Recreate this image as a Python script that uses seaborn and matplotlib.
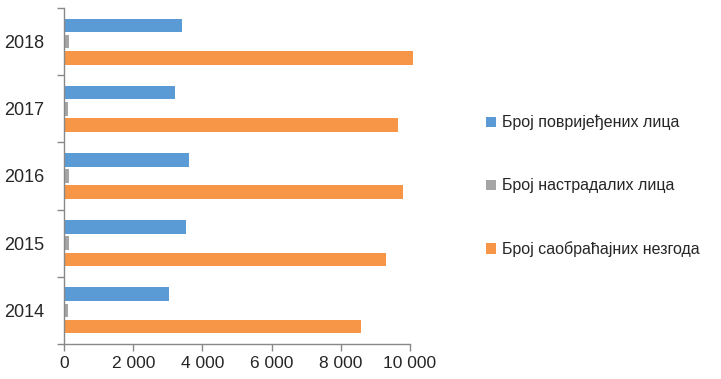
import matplotlib
matplotlib.use('Agg')
import matplotlib.pyplot as plt
from matplotlib.ticker import FuncFormatter, FixedLocator
from matplotlib.patches import Patch
import seaborn as sns
import pandas as pd

# Data
years = ['2018', '2017', '2016', '2015', '2014']
series = ['Број повријеђених лица', 'Број настрадалих лица', 'Број саобраћајних незгода']
injured = [3420, 3210, 3600, 3520, 3040]
killed = [135, 125, 155, 153, 125]
accidents = [10080, 9650, 9790, 9310, 8595]
colors = ['#5B9BD5', '#A5A5A5', '#F79646']

rows = []
for name, vals in zip(series, [injured, killed, accidents]):
    for yr, v in zip(years, vals):
        rows.append({'year': yr, 'series': name, 'value': v})
df = pd.DataFrame(rows)

sns.set_style('white')
plt.rcParams['font.family'] = ['Liberation Sans Narrow', 'Liberation Sans', 'DejaVu Sans']

fig = plt.figure(figsize=(7.21, 3.79), dpi=100)
ax = fig.add_axes([64/721, 1-344/379, 346/721, 336/379])

sns.barplot(data=df, y='year', x='value', hue='series', order=years,
            hue_order=series, palette=colors, orient='h', width=0.72,
            gap=0.16, ax=ax, legend=False, saturation=1, linewidth=0)
for p in ax.patches:
    p.set_clip_on(False)

ax.set_xlim(0, 10000)
ax.set_ylim(4.5, -0.5)
ax.set_xlabel('')
ax.set_ylabel('')
ax.xaxis.set_major_formatter(FuncFormatter(lambda v, p: f'{int(v):,}'.replace(',', ' ')))
ax.set_xticks(range(0, 10001, 2000))

# ticks on category boundaries
ax.yaxis.set_minor_locator(FixedLocator([i - 0.5 for i in range(len(years) + 1)]))
ax.tick_params(axis='y', which='major', length=0, labelsize=13, pad=14)
ax.tick_params(axis='y', which='minor', length=5, color='#888888', width=1, left=True)
ax.tick_params(axis='x', which='major', length=5, color='#888888', width=1, bottom=True,
               labelsize=12.5, pad=4)

for s in ['top', 'right']:
    ax.spines[s].set_visible(False)
for s in ['left', 'bottom']:
    ax.spines[s].set_color('#888888')
    ax.spines[s].set_linewidth(1)

handles = [Patch(facecolor=c, edgecolor='none', label=l) for c, l in zip(colors, series)]
fig.legend(handles=handles, loc='center left', bbox_to_anchor=(472/721, 1-186/379),
           frameon=False, fontsize=11.5, handlelength=0.6, handleheight=0.6,
           handletextpad=0.4, labelspacing=3.0)

fig.savefig('out.png', dpi=100)
